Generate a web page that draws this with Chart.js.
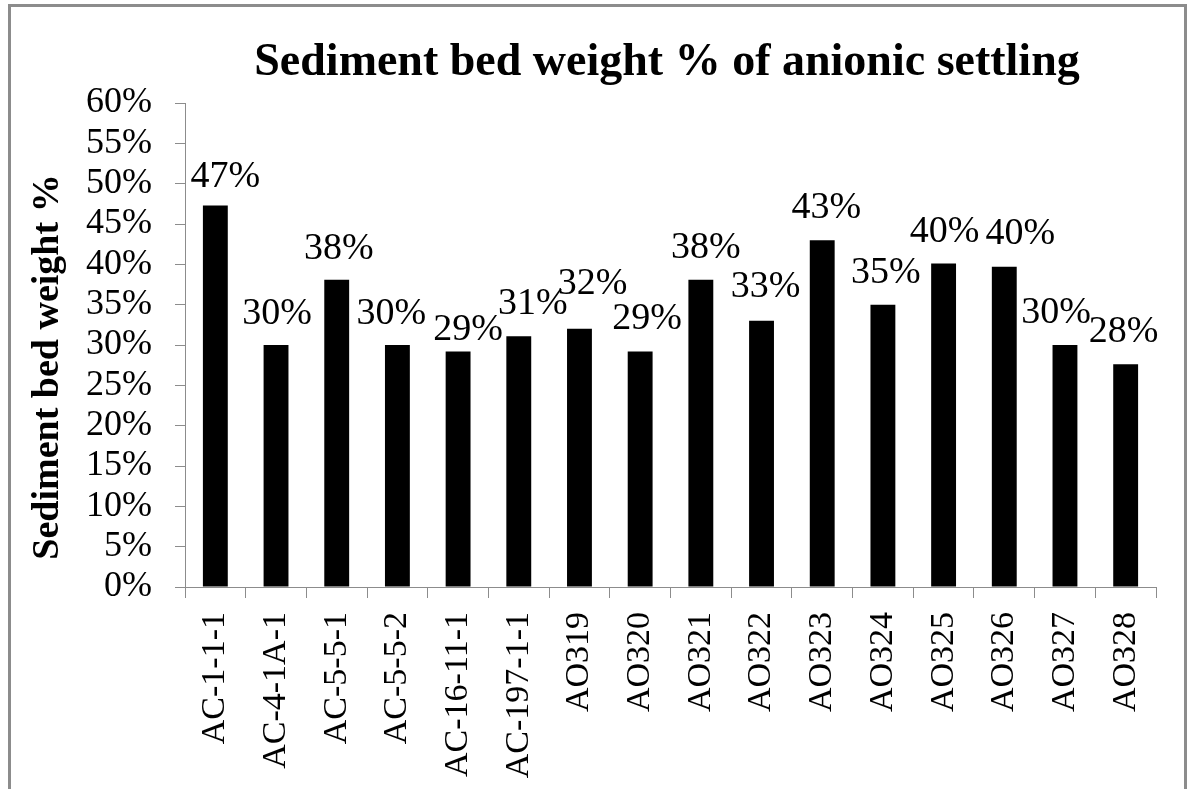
<!DOCTYPE html>
<html>
<head>
<meta charset="utf-8">
<script src="https://cdn.jsdelivr.net/npm/chart.js@4.4.0/dist/chart.umd.min.js"></script>
<style>
  html, body { margin: 0; padding: 0; background: #ffffff; }
  #wrap { position: relative; width: 1189px; height: 789px; }
  canvas { display: block; }
</style>
</head>
<body>
<div id="wrap"><canvas id="c" width="1189" height="789"></canvas></div>
<script>
// ---- data ----
const categories = ['AC-1-1-1', 'AC-4-1A-1', 'AC-5-5-1', 'AC-5-5-2', 'AC-16-11-1', 'AC-197-1-1',
  'AO319', 'AO320', 'AO321', 'AO322', 'AO323', 'AO324', 'AO325', 'AO326', 'AO327', 'AO328'];
const weightFraction = [0.473, 0.300, 0.381, 0.300, 0.292, 0.311, 0.320, 0.292,
  0.381, 0.330, 0.430, 0.350, 0.401, 0.397, 0.300, 0.276];
const yTickValues = [0, 0.05, 0.10, 0.15, 0.20, 0.25, 0.30, 0.35, 0.40, 0.45, 0.50, 0.55, 0.60];
const chartTitle = 'Sediment bed weight % of anionic settling';
const yAxisTitle = 'Sediment bed weight %';
// manual nudges of the value labels (as placed in the original)
const labelDx = [10, 1, 2, -6, 10, 14, 13, 7, 5, 4, 4, 3, 1, 16, -9, -2];
const labelDy = [4, 1, 1, 1, 11, 0, -13, 0, 0, -2, 0, 0, 0, -1, 0, 0];

const SERIF = '"Liberation Serif", "Times New Roman", Times, serif';
const pct = v => Math.round(v * 100) + '%';

const framePlugin = {
  id: 'frame',
  afterDraw(chart) {
    const ctx = chart.ctx;
    ctx.save();
    ctx.fillStyle = '#8c8c8c';
    ctx.fillRect(8, 4, 1179, 3);
    ctx.fillRect(8, 4, 3, 785);
    ctx.fillRect(1184, 4, 3, 785);
    ctx.restore();
  }
};

const textPlugin = {
  id: 'texts',
  afterDatasetsDraw(chart) {
    const ctx = chart.ctx;
    ctx.save();
    // chart title
    ctx.fillStyle = '#000';
    ctx.font = 'bold 46px ' + SERIF;
    ctx.textAlign = 'center';
    ctx.textBaseline = 'alphabetic';
    ctx.fillText(chartTitle, 667, 75);
    // y axis title
    ctx.save();
    ctx.translate(48, 367);
    ctx.rotate(-Math.PI / 2);
    ctx.font = 'bold 38px ' + SERIF;
    ctx.textAlign = 'center';
    ctx.textBaseline = 'middle';
    ctx.fillText(yAxisTitle, 0, 0);
    ctx.restore();
    // value labels
    const meta = chart.getDatasetMeta(0);
    ctx.font = '38px ' + SERIF;
    ctx.textAlign = 'center';
    ctx.textBaseline = 'alphabetic';
    meta.data.forEach((bar, i) => {
      const v = chart.data.datasets[0].data[i];
      ctx.fillText(pct(v), bar.x + labelDx[i], bar.y - 22 + labelDy[i]);
    });
    ctx.restore();
  }
};

new Chart(document.getElementById('c'), {
  type: 'bar',
  data: {
    labels: categories,
    datasets: [{
      data: weightFraction,
      backgroundColor: '#000000',
      borderWidth: 0,
      barPercentage: 0.41,
      categoryPercentage: 1.0
    }]
  },
  options: {
    responsive: false,
    animation: false,
    devicePixelRatio: 1,
    layout: { padding: { left: 0, top: 103, right: 33, bottom: 0 } },
    plugins: { legend: { display: false }, tooltip: { enabled: false }, title: { display: false } },
    scales: {
      x: {
        type: 'category',
        offset: true,
        grid: { display: true, offset: true, drawOnChartArea: false, drawTicks: true, tickLength: 11, color: '#8c8c8c', lineWidth: 1 },
        border: { display: true, color: '#8c8c8c', width: 1 },
        ticks: {
          autoSkip: false, minRotation: 90, maxRotation: 90, padding: 14,
          color: '#000', font: { family: SERIF, size: 34 }
        },
        afterFit(scale) { scale.height = 202; }
      },
      y: {
        type: 'linear',
        min: 0, max: 0.6,
        afterBuildTicks(scale) { scale.ticks = yTickValues.map(v => ({ value: v })); },
        grid: { display: true, drawOnChartArea: false, drawTicks: true, tickLength: 10, color: '#8c8c8c', lineWidth: 1 },
        border: { display: true, color: '#8c8c8c', width: 1 },
        ticks: {
          autoSkip: false, padding: 23, color: '#000', font: { family: SERIF, size: 36 },
          callback: v => pct(v)
        },
        afterFit(scale) { scale.width = 185; }
      }
    }
  },
  plugins: [framePlugin, textPlugin]
});
</script>
</body>
</html>
